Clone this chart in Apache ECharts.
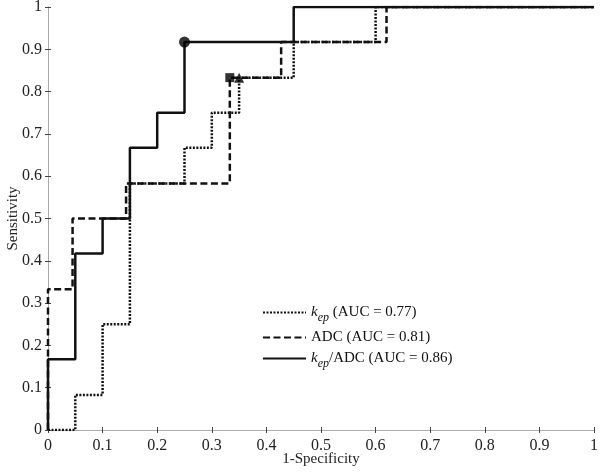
<!DOCTYPE html>
<html><head><meta charset="utf-8">
<script src="https://cdn.jsdelivr.net/npm/echarts@6/dist/echarts.min.js"></script>
<style>html,body{margin:0;padding:0;background:#fff}#c{width:600px;height:472px}</style>
</head><body><div id="c"></div>
<script>
// ROC step vertices (1-Specificity, Sensitivity)
const kepFpr   = [0, 0.05, 0.10, 0.15, 0.25, 0.30, 0.35, 0.45, 0.60, 1];
const kepTpr   = [0, 0.083, 0.25, 0.583, 0.667, 0.75, 0.833, 0.917, 1, 1];
const adcFpr   = [0, 0, 0.045, 0.143, 0.333, 0.427, 0.62, 1];
const adcTpr   = [0, 0.333, 0.5, 0.583, 0.833, 0.917, 1, 1];
const ratioFpr = [0, 0, 0.05, 0.10, 0.15, 0.20, 0.25, 0.45, 1];
const ratioTpr = [0, 0.167, 0.417, 0.5, 0.667, 0.75, 0.917, 1, 1];
// optimal cut-off points
const kepOpt   = [0.35, 0.833];
const adcOpt   = [0.333, 0.833];
const ratioOpt = [0.25, 0.917];
const seriesNames = ['kep', 'ADC', 'kep/ADC'];
const aucValues = ['0.77', '0.81', '0.86'];
const tickLabels = ['0','0.1','0.2','0.3','0.4','0.5','0.6','0.7','0.8','0.9','1'];

const zip = (a, b) => a.map((v, i) => [v, b[i]]);
const FONT = '"Liberation Serif", "Times New Roman", serif';
const fmt = v => tickLabels[Math.round(v * 10)];

const axisCommon = {
  type: 'value', min: 0, max: 1, interval: 0.1,
  axisLine: { show: true, lineStyle: { color: '#aaa', width: 1 } },
  axisTick: { show: true, inside: true, length: 3, lineStyle: { color: '#444' } },
  splitLine: { show: false },
  nameMoveOverlap: false,
};

const chart = echarts.init(document.getElementById('c'), null, { renderer: 'canvas' });
chart.setOption({
  backgroundColor: '#fff',
  animation: false,
  grid: { left: 48, right: 6, top: 7, bottom: 42, containLabel: false, outerBoundsMode: 'none' },
  xAxis: [
    Object.assign({}, axisCommon, {
      position: 'bottom', name: '1-Specificity', nameLocation: 'middle', nameGap: 22,
      nameTextStyle: { fontFamily: FONT, fontSize: 15, color: '#222' },
      axisLabel: { fontFamily: FONT, fontSize: 16, color: '#222', margin: 8, formatter: fmt }
    }),
    Object.assign({}, axisCommon, { position: 'top', axisLabel: { show: false } })
  ],
  yAxis: [
    Object.assign({}, axisCommon, {
      position: 'left', name: 'Sensitivity', nameLocation: 'middle', nameGap: 27,
      nameTextStyle: { fontFamily: FONT, fontSize: 15, color: '#222' },
      axisLabel: { fontFamily: FONT, fontSize: 16, color: '#222', margin: 6, formatter: fmt }
    }),
    Object.assign({}, axisCommon, { position: 'right', axisLabel: { show: false } })
  ],
  legend: {
    orient: 'vertical', left: 262, top: 305, itemGap: 6, padding: 0,
    itemWidth: 43, itemHeight: 12,
    data: seriesNames,
    itemStyle: { opacity: 0 },
    formatter: function (name) {
      const i = seriesNames.indexOf(name);
      if (name === 'kep') return '{i|k}{s|ep}{t| (AUC = ' + aucValues[i] + ')}';
      if (name === 'ADC') return '{t|ADC (AUC = ' + aucValues[i] + ')}';
      return '{i|k}{s|ep}{t|/ADC (AUC = ' + aucValues[i] + ')}';
    },
    textStyle: {
      fontFamily: FONT, fontSize: 15, color: '#111',
      rich: {
        t: { fontFamily: FONT, fontSize: 15, color: '#111' },
        i: { fontFamily: FONT, fontSize: 15, fontStyle: 'italic', color: '#111' },
        s: { fontFamily: FONT, fontSize: 12, fontStyle: 'italic', color: '#111', padding: [11, 0, 0, 0] }
      }
    }
  },
  series: [
    { name: 'kep', type: 'line', step: 'end', data: zip(kepFpr, kepTpr), symbol: 'none',
      itemStyle: { color: '#111' },
      lineStyle: { color: '#111', width: 2.5, type: [2, 1.5] }, z: 2 },
    { name: 'ADC', type: 'line', step: 'end', data: zip(adcFpr, adcTpr), symbol: 'none',
      itemStyle: { color: '#111' },
      lineStyle: { color: '#111', width: 2.5, type: [7, 3.5] }, z: 3 },
    { name: 'kep/ADC', type: 'line', step: 'end', data: zip(ratioFpr, ratioTpr), symbol: 'none',
      itemStyle: { color: '#111' },
      lineStyle: { color: '#111', width: 2.5, type: 'solid' }, z: 4 },
    { type: 'scatter', data: [kepOpt], symbol: 'triangle', symbolSize: 10, itemStyle: { color: '#000' }, z: 5 },
    { type: 'scatter', data: [adcOpt], symbol: 'rect', symbolSize: 9, itemStyle: { color: '#000' }, z: 5 },
    { type: 'scatter', data: [ratioOpt], symbol: 'circle', symbolSize: 11, itemStyle: { color: '#000' }, z: 5 }
  ]
});
</script></body></html>
